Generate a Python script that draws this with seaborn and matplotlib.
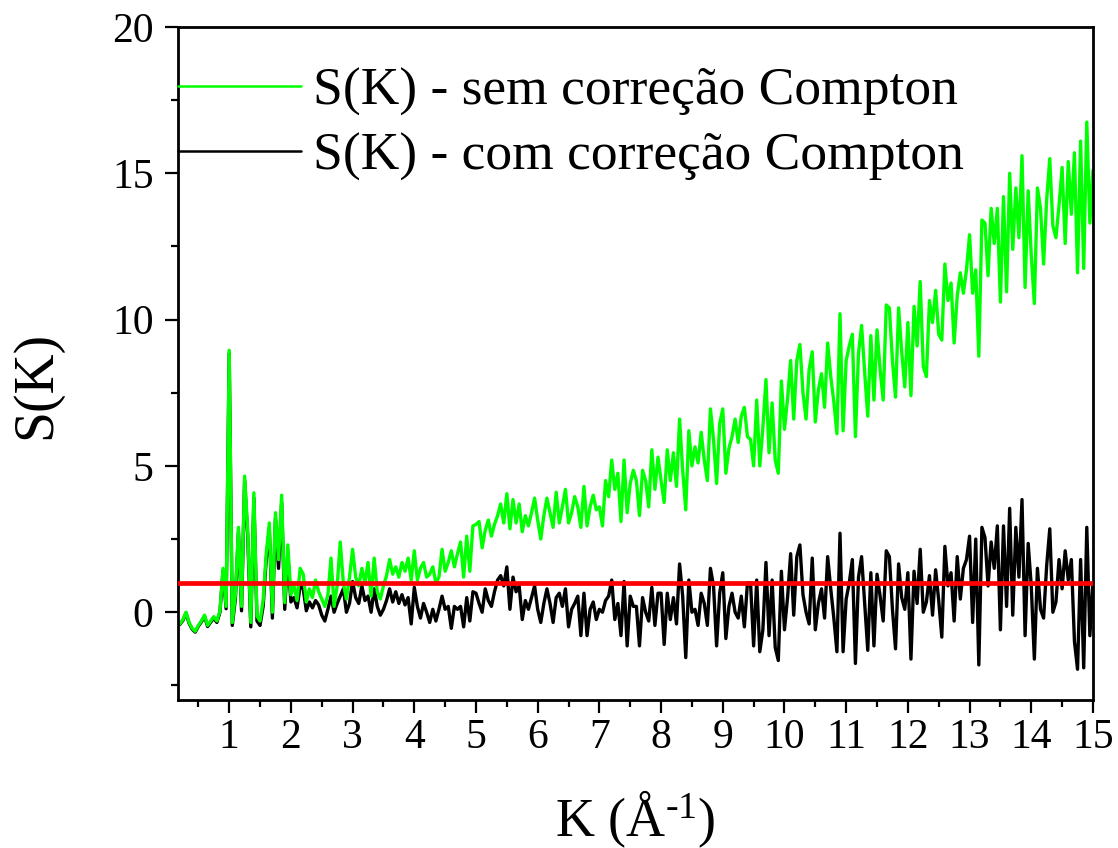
import numpy as np
import matplotlib
matplotlib.use("Agg")
import matplotlib.pyplot as plt
from matplotlib.ticker import MultipleLocator
from matplotlib.lines import Line2D
import seaborn as sns
import pandas as pd

# ---------------- data ----------------
k = np.round(np.arange(20, 1501, 5) / 100.0, 2)  # K grid, 0.20 .. 15.00 (1/Å)

# S(K) without Compton correction (green)
s_sem = [
    # 0.20 - 0.95
    -0.40, -0.25, 0.00, -0.35, -0.55, -0.65, -0.45, -0.30, -0.10, -0.45, -0.30, -0.15, -0.30, 0.05, 1.50, 0.20,
    # 1.00 - 1.95
    8.95, -0.35, 0.60, 2.90, 0.20, 4.65, 2.80, -0.35, 4.08, -0.13, -0.30, 0.40, 2.00, 3.05, 0.00, 3.40, 1.80, 4.00, 0.33, 2.30,
    # 2.00 - 2.95
    0.60, 0.90, 0.40, 1.50, 1.30, 0.35, 0.80, 0.50, 1.10, 0.70, 0.45, 0.20, 0.60, 1.85, 0.20, 0.90, 2.40, 1.00, 0.45, 1.20,
    # 3.00 - 3.95
    2.15, 1.20, 0.90, 1.50, 1.00, 1.70, 0.55, 1.85, 0.70, 0.45, 0.90, 1.25, 1.80, 1.30, 1.55, 1.20, 1.70, 1.40, 1.85, 1.10,
    # 4.00 - 4.95
    2.10, 1.10, 1.50, 1.70, 1.20, 1.30, 1.55, 1.00, 1.20, 2.15, 1.40, 1.70, 2.10, 1.55, 2.00, 2.40, 1.20, 2.60, 1.40, 2.95,
    # 5.00 - 5.95
    3.00, 3.10, 2.20, 2.80, 3.15, 2.60, 3.00, 3.30, 3.70, 3.05, 4.05, 2.85, 3.85, 3.05, 3.70, 2.75, 3.30, 2.95, 3.40, 3.90,
    # 6.00 - 6.95
    3.15, 2.50, 3.30, 3.90, 3.40, 2.90, 4.10, 3.05, 3.60, 4.20, 3.05, 3.40, 3.95, 3.60, 2.90, 4.30, 2.95, 3.60, 4.00, 3.50,
    # 7.00 - 7.95
    3.60, 2.95, 4.50, 3.95, 5.20, 4.20, 4.75, 3.10, 5.20, 3.40, 4.40, 4.85, 4.50, 3.30, 4.85, 4.50, 3.60, 5.55, 4.20, 5.30,
    # 8.00 - 8.95
    4.50, 3.75, 5.55, 4.50, 5.45, 4.30, 6.60, 4.85, 3.50, 6.20, 5.00, 5.65, 5.10, 6.15, 5.20, 4.50, 6.95, 5.90, 4.40, 6.45,
    # 9.00 - 9.95
    6.95, 4.75, 5.60, 6.00, 6.60, 5.80, 6.70, 7.00, 6.00, 5.90, 5.00, 7.25, 5.00, 6.30, 7.95, 5.45, 7.15, 5.20, 4.75, 7.90,
    # 10.00 - 10.95
    6.25, 7.30, 8.60, 6.60, 8.60, 9.15, 7.50, 6.60, 8.30, 8.90, 6.50, 7.60, 8.15, 7.00, 9.20, 8.05, 7.20, 6.10, 10.20, 6.20,
    # 11.00 - 11.95
    8.60, 9.10, 9.50, 6.00, 8.85, 9.80, 8.20, 6.70, 9.45, 7.25, 9.65, 8.30, 7.25, 10.50, 10.40, 8.60, 7.35, 10.40, 8.90, 7.70,
    # 12.00 - 12.95
    9.90, 7.40, 10.45, 9.10, 11.30, 8.40, 8.05, 10.65, 9.90, 11.00, 9.50, 9.30, 11.90, 10.65, 11.25, 9.20, 10.80, 11.60, 10.90, 11.70,
    # 13.00 - 13.95
    12.90, 10.90, 11.70, 8.75, 13.40, 13.30, 11.50, 13.80, 12.60, 13.80, 10.60, 14.20, 10.95, 15.00, 12.40, 14.50, 12.80, 15.60, 11.10, 14.40,
    # 14.00 - 15.00
    12.20, 10.55, 14.50, 13.80, 11.90, 14.10, 15.50, 13.20, 12.80, 13.90, 15.20, 12.60, 15.40, 13.60, 15.70, 11.60, 16.10, 11.75, 16.75, 13.30, 15.10,
]

# S(K) with Compton correction (black)
s_com = [
    # 0.20 - 0.95
    -0.42, -0.28, -0.03, -0.38, -0.58, -0.68, -0.48, -0.33, -0.14, -0.49, -0.34, -0.20, -0.35, 0.00, 1.42, 0.12,
    # 1.00 - 1.95
    8.85, -0.45, 0.45, 2.75, 0.05, 4.50, 2.60, -0.50, 3.90, -0.30, -0.45, 0.20, 1.80, 2.85, -0.20, 3.20, 1.50, 3.75, 0.10, 2.00,
    # 2.00 - 2.95
    0.35, 0.50, 0.15, 0.90, 0.80, 0.05, 0.35, 0.15, 0.40, 0.25, -0.10, -0.30, 0.10, 0.55, 0.00, 0.30, 0.55, 0.80, 0.00, 0.30,
    # 3.00 - 3.95
    1.05, 0.50, 0.30, 0.90, 0.40, 0.55, 0.00, 0.80, 0.20, -0.10, 0.10, 0.40, 0.80, 0.35, 0.70, 0.30, 0.60, 0.25, 0.50, -0.40,
    # 4.00 - 4.95
    0.85, 0.20, -0.20, 0.30, 0.00, -0.35, 0.10, -0.30, 0.10, 0.55, 0.10, 0.20, -0.55, 0.20, 0.10, 0.20, -0.50, 0.50, -0.30, 0.70,
    # 5.00 - 5.95
    0.65, 0.30, 0.00, 0.80, 0.40, 0.20, 0.70, 1.10, 1.25, 0.90, 1.55, 0.10, 1.20, 0.70, 0.90, -0.25, 0.40, 0.10, 0.50, 0.90,
    # 6.00 - 6.95
    0.10, -0.35, 0.30, 0.80, 0.30, -0.35, 0.50, 0.65, 0.20, 0.80, -0.50, 0.10, 0.30, 0.55, -0.80, 0.65, -0.80, 0.10, 0.35, -0.25,
    # 7.00 - 7.95
    0.10, 0.00, 0.40, 0.55, 1.10, -0.25, 0.30, -0.80, 1.05, -1.15, 0.55, 0.20, 0.20, -1.15, 0.50, 0.00, -0.30, 0.85, -0.45, 0.65,
    # 8.00 - 8.95
    0.65, -1.10, 0.65, -0.25, 0.50, -0.40, 1.65, 0.55, -1.55, 1.10, 0.00, 0.10, -0.45, 0.65, 0.30, -0.45, 1.50, 0.90, -1.15, 0.65,
    # 9.00 - 9.95
    1.35, -0.90, 0.20, 0.65, 0.00, -0.20, 0.55, -0.50, 1.00, 1.00, -1.15, 1.10, -1.35, -0.60, 1.70, -0.80, 1.10, -1.20, -1.65, 1.40,
    # 10.00 - 10.95
    -0.60, 0.50, 2.00, -0.10, 1.90, 2.30, 0.60, 0.00, -0.40, 1.85, -0.60, 0.30, 0.80, -0.20, 1.90, 0.80, -0.20, -1.35, 2.70, -1.35,
    # 11.00 - 11.95
    0.45, 1.00, 1.80, -1.75, 1.20, 1.90, 0.30, -1.30, 1.35, -1.15, 1.30, 0.55, -0.30, 2.10, 1.90, 0.10, -1.25, 1.65, 0.50, 0.10,
    # 12.00 - 12.95
    1.35, -1.60, 1.40, 0.30, 2.15, 0.00, 0.35, 1.25, -0.10, 1.45, 0.40, -0.85, 2.25, 0.90, 1.35, -0.30, 1.90, 0.45, 1.50, 1.80,
    # 13.00 - 13.95
    2.60, -0.35, 2.50, -1.80, 2.90, 2.55, 0.90, 2.40, 1.50, 2.95, -0.60, 2.95, 0.20, 3.55, -0.10, 2.90, 1.20, 3.85, -0.80, 2.35,
    # 14.00 - 15.00
    0.90, -1.60, 1.50, 0.10, -0.20, 1.60, 2.85, 0.00, 0.35, 1.80, 0.80, 2.10, 1.10, 1.80, -1.00, -1.95, 1.80, -1.90, 2.90, -0.80, 1.00,
]

reference_level = 1.0  # red horizontal line S(K) = 1

label_sem = "S(K) - sem correção Compton"
label_com = "S(K) - com correção Compton"

df = pd.DataFrame({"K": k, "sem": s_sem, "com": s_com})

# ---------------- style ----------------
sns.set_theme(style="ticks")
plt.rcParams["font.family"] = ["Liberation Serif", "DejaVu Serif"]
plt.rcParams["mathtext.fontset"] = "custom"
plt.rcParams["mathtext.rm"] = "Liberation Serif"
plt.rcParams["mathtext.it"] = "Liberation Serif:italic"
plt.rcParams["mathtext.default"] = "regular"
for key in ["text.color", "axes.labelcolor", "xtick.color", "ytick.color",
            "axes.edgecolor", "xtick.labelcolor", "ytick.labelcolor"]:
    plt.rcParams[key] = "black"

W, H = 1118, 848
fig = plt.figure(figsize=(W / 100, H / 100), dpi=100)
ax = fig.add_axes([0.1592, 0.1745, 0.8184, 0.7937])

sns.lineplot(data=df, x="K", y="com", color="black", lw=2.4, ax=ax,
             estimator=None, sort=False, legend=False)
sns.lineplot(data=df, x="K", y="sem", color="#00ff00", lw=2.4, ax=ax,
             estimator=None, sort=False, legend=False)
ax.axhline(reference_level, color="#ff0000", lw=3.4, zorder=5)

ax.set_xlim(0.17, 15)
ax.set_ylim(-3, 20)

ax.xaxis.set_major_locator(MultipleLocator(1))
ax.xaxis.set_minor_locator(MultipleLocator(0.5))
ax.yaxis.set_major_locator(MultipleLocator(5))
ax.yaxis.set_minor_locator(MultipleLocator(2.5))

ax.tick_params(which="major", direction="out", length=9.5, width=1.6,
               labelsize=30, pad=8)
ax.tick_params(which="minor", direction="out", length=5, width=1.6)
ax.tick_params(axis="x", which="major", pad=6)

for sp in ax.spines.values():
    sp.set_linewidth(2.0)
    sp.set_color("black")

ax.set_xlabel(r"K (Å$^{\text{-}1}$)", fontsize=39)
ax.xaxis.set_label_coords(0.5, (700 - 788) / 673)
ax.set_ylabel("S(K)", fontsize=40)
ax.yaxis.set_label_coords(-0.127, 0.468)

handles = [Line2D([], [], color="#00ff00", lw=1.8),
           Line2D([], [], color="black", lw=1.8)]
ax.legend(handles, [label_sem, label_com], loc="upper left",
          bbox_to_anchor=(0.0, 0.9406), frameon=False, fontsize=38.5,
          handlelength=2.3, handletextpad=0.23, borderpad=0.0,
          borderaxespad=0.0, labelspacing=0.31)

# fine-tune x tick label position: put the text box top at ~y=719 px
fig.canvas.draw()
r = fig.canvas.get_renderer()
tops = [H - t.get_window_extent(r).y1 for t in ax.get_xticklabels() if t.get_text()]
if tops:
    shift_px = 719 - np.mean(tops)
    ax.tick_params(axis="x", which="major", pad=max(0.5, 6 + shift_px * 72 / 100))

fig.savefig("out.png", dpi=100)
